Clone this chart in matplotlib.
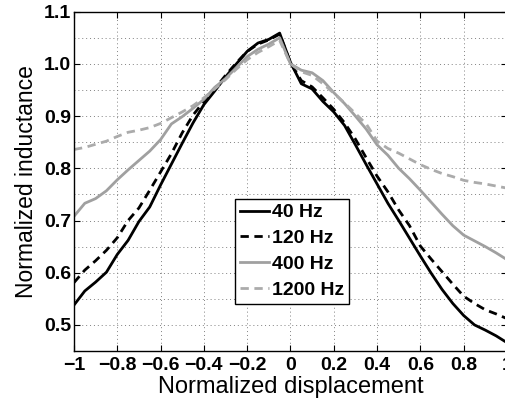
import numpy as np
import matplotlib
matplotlib.use("Agg")
import matplotlib.pyplot as plt

plt.rcParams['font.family'] = ['Liberation Sans', 'DejaVu Sans']

# normalized displacement samples
x = [-1.00, -0.95, -0.90, -0.85, -0.80, -0.75, -0.70, -0.65, -0.60, -0.55,
     -0.50, -0.45, -0.40, -0.35, -0.30, -0.25, -0.20, -0.15, -0.10, -0.05,
     0.00, 0.05, 0.10, 0.15, 0.20, 0.25, 0.30, 0.35, 0.40, 0.45,
     0.50, 0.55, 0.60, 0.65, 0.70, 0.75, 0.80, 0.85, 0.90, 0.95, 1.00]

hz40 = [0.538, 0.565, 0.582, 0.601, 0.635, 0.662, 0.698, 0.726, 0.768, 0.808,
        0.848, 0.887, 0.922, 0.948, 0.975, 1.000, 1.024, 1.040, 1.047, 1.059,
        1.003, 0.962, 0.952, 0.928, 0.908, 0.882, 0.845, 0.807, 0.770, 0.733,
        0.700, 0.666, 0.632, 0.599, 0.568, 0.541, 0.518, 0.500, 0.490, 0.479, 0.466]

hz120 = [0.581, 0.605, 0.623, 0.643, 0.667, 0.700, 0.724, 0.758, 0.793, 0.828,
         0.868, 0.902, 0.928, 0.952, 0.978, 1.002, 1.024, 1.038, 1.046, 1.057,
         1.002, 0.968, 0.956, 0.935, 0.913, 0.887, 0.856, 0.820, 0.785, 0.755,
         0.720, 0.690, 0.651, 0.626, 0.602, 0.578, 0.555, 0.541, 0.529, 0.521, 0.512]

hz400 = [0.708, 0.733, 0.742, 0.757, 0.778, 0.797, 0.815, 0.833, 0.855, 0.885,
         0.899, 0.915, 0.932, 0.955, 0.972, 0.993, 1.014, 1.028, 1.038, 1.050,
         1.000, 0.988, 0.983, 0.968, 0.945, 0.924, 0.900, 0.875, 0.845, 0.825,
         0.800, 0.780, 0.758, 0.735, 0.712, 0.690, 0.672, 0.661, 0.650, 0.638, 0.625]

hz1200 = [0.836, 0.840, 0.846, 0.852, 0.861, 0.869, 0.873, 0.878, 0.886, 0.897,
          0.908, 0.920, 0.935, 0.952, 0.970, 0.990, 1.008, 1.022, 1.033, 1.045,
          1.000, 0.985, 0.978, 0.962, 0.944, 0.925, 0.905, 0.885, 0.852, 0.838,
          0.829, 0.818, 0.807, 0.798, 0.790, 0.784, 0.777, 0.773, 0.770, 0.766, 0.762]

xticks = [-1, -0.8, -0.6, -0.4, -0.2, 0, 0.2, 0.4, 0.6, 0.8, 1]
xtick_labels = ['\u22121', '\u22120.8', '\u22120.6', '\u22120.4', '\u22120.2',
                '0', '0.2', '0.4', '0.6', '0.8', '1']
yticks = [0.5, 0.6, 0.7, 0.8, 0.9, 1.0, 1.1]
ytick_labels = ['0.5', '0.6', '0.7', '0.8', '0.9', '1.0', '1.1']
yminor = [0.55, 0.65, 0.75, 0.85, 0.95, 1.05]

fig = plt.figure(figsize=(5.06, 4.08), dpi=100)
ax = fig.add_axes([0.1462, 0.1397, 0.8557, 0.8316])

ax.plot(x, hz40, color='black', lw=2, label='40 Hz')
ax.plot(x, hz120, color='black', lw=2, ls=(0, (3, 2)), label='120 Hz')
ax.plot(x, hz400, color='#a0a0a0', lw=2, label='400 Hz')
ax.plot(x, hz1200, color='#ababab', lw=2, ls=(0, (3, 2)), label='1200 Hz')

ax.set_xlim(-1, 1)
ax.set_ylim(0.45, 1.1)
ax.set_xticks(xticks)
ax.set_xticklabels(xtick_labels)
ax.set_yticks(yticks)
ax.set_yticklabels(ytick_labels)
ax.set_yticks(yminor, minor=True)

for lab in ax.get_xticklabels() + ax.get_yticklabels():
    lab.set_fontweight('bold')
ax.tick_params(which='major', direction='in', length=4, width=0.8, labelsize=14,
               top=True, right=True)
ax.tick_params(axis='x', pad=4)
ax.tick_params(axis='y', pad=2)
ax.tick_params(which='minor', direction='in', length=0, top=True, right=True)

ax.grid(True, which='both', ls=(0, (1, 3)), color='#808080', lw=0.7)
for s in ax.spines.values():
    s.set_linewidth(1.0)

ax.set_xlabel('Normalized displacement', fontsize=17, labelpad=2)
ax.set_ylabel('Normalized inductance', fontsize=16.5, labelpad=4)

leg = ax.legend(loc='upper left', bbox_to_anchor=(0.372, 0.448), borderaxespad=0,
                prop={'weight': 'bold', 'size': 14}, fancybox=False,
                edgecolor='black', framealpha=1, handlelength=1.5,
                handletextpad=0.15, labelspacing=0.42, borderpad=0.25)
leg.get_frame().set_linewidth(1.0)

fig.savefig('out.png', dpi=100)
